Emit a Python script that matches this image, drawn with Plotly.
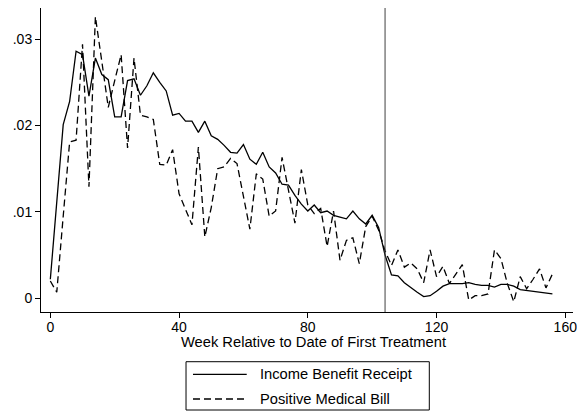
import plotly.graph_objects as go

weeks = list(range(0, 157, 2))

income_benefit = [
    0.0022, 0.0111, 0.0201, 0.0228, 0.0286, 0.0282, 0.0234, 0.0278, 0.0259, 0.0253,
    0.0210, 0.0210, 0.0252, 0.0254, 0.0235, 0.0246, 0.0261, 0.0250, 0.0240, 0.0212,
    0.0214, 0.0205, 0.0205, 0.0192, 0.0205, 0.0188, 0.0184, 0.0177, 0.0169, 0.0168,
    0.0178, 0.0161, 0.0155, 0.0169, 0.0152, 0.0145, 0.0132, 0.0131, 0.0119, 0.0109,
    0.0101, 0.0108, 0.0099, 0.0101, 0.0096, 0.0094, 0.0092, 0.0101, 0.0092, 0.0086,
    0.0096, 0.0082, 0.0050, 0.0027, 0.0026, 0.0018, 0.0012, 0.0007, 0.0002, 0.0003,
    0.0008, 0.0014, 0.0017, 0.0017, 0.0017, 0.0018, 0.0016, 0.0015, 0.0015, 0.0013,
    0.0016, 0.0016, 0.0014, 0.0010, 0.0009, 0.0008, 0.0007, 0.0006, 0.0005,
]

medical_bill = [
    0.0020, 0.0007, 0.0095, 0.0181, 0.0183, 0.0294, 0.0129, 0.0326, 0.0274, 0.0221,
    0.0252, 0.0282, 0.0174, 0.0278, 0.0212, 0.0210, 0.0207, 0.0155, 0.0154, 0.0172,
    0.0121, 0.0104, 0.0085, 0.0175, 0.0071, 0.0105, 0.0150, 0.0152, 0.0162, 0.0156,
    0.0118, 0.0080, 0.0144, 0.0138, 0.0095, 0.0101, 0.0163, 0.0123, 0.0087, 0.0149,
    0.0108, 0.0098, 0.0104, 0.0060, 0.0101, 0.0044, 0.0067, 0.0070, 0.0040, 0.0083,
    0.0095, 0.0079, 0.0055, 0.0038, 0.0056, 0.0036, 0.0041, 0.0034, 0.0018, 0.0056,
    0.0025, 0.0037, 0.0017, 0.0028, 0.0039, -0.0002, 0.0003, 0.0003, 0.0005, 0.0056,
    0.0046, 0.0017, -0.0004, 0.0025, 0.0011, 0.0022, 0.0034, 0.0012, 0.0028,
]

series_names = ["Income Benefit Receipt", "Positive Medical Bill"]
x_ticks = [0, 40, 80, 120, 160]
y_ticks = [0, 0.01, 0.02, 0.03]
y_tick_labels = ["0", ".01", ".02", ".03"]
x_title = "Week Relative to Date of First Treatment"
treatment_week = 104

FONT = "Liberation Sans, Arial, sans-serif"
FS = 14.7
TICK_FS = 14
DASH = "7px,4px"

fig = go.Figure()
fig.add_trace(go.Scatter(
    x=weeks, y=income_benefit, mode="lines", name=series_names[0],
    line=dict(color="black", width=1.3), showlegend=False,
))
fig.add_trace(go.Scatter(
    x=weeks, y=medical_bill, mode="lines", name=series_names[1],
    line=dict(color="black", width=1.3, dash=DASH), showlegend=False,
))

fig.add_shape(type="line", xref="x", yref="paper", x0=treatment_week, x1=treatment_week,
              y0=0, y1=1, line=dict(color="#404040", width=1))

# Legend box drawn below the plot (paper coordinates)
fig.add_shape(type="rect", xref="paper", yref="paper", x0=0.2726, x1=0.7299,
              y0=-0.3224, y1=-0.1635, line=dict(color="black", width=1),
              fillcolor="white", layer="above")
fig.add_shape(type="line", xref="paper", yref="paper", x0=0.2857, x1=0.3867,
              y0=-0.2049, y1=-0.2049, line=dict(color="black", width=1.3))
fig.add_shape(type="line", xref="paper", yref="paper", x0=0.2857, x1=0.3867,
              y0=-0.2862, y1=-0.2862, line=dict(color="black", width=1.3, dash=DASH))
for name, yy in zip(series_names, [-0.2049, -0.2862]):
    fig.add_annotation(text=name, xref="paper", yref="paper", x=0.4080, y=yy,
                       xanchor="left", yanchor="middle", showarrow=False,
                       font=dict(family=FONT, size=FS, color="black"))

fig.add_annotation(text=x_title, xref="paper", yref="paper", x=0.513, y=-0.0987,
                   xanchor="center", yanchor="middle", showarrow=False,
                   font=dict(family=FONT, size=FS, color="black"))

fig.update_layout(
    width=577, height=411,
    margin=dict(l=41, r=4, t=8, b=99, autoexpand=False),
    paper_bgcolor="white", plot_bgcolor="white",
    font=dict(family=FONT, size=FS, color="black"),
    showlegend=False,
    xaxis=dict(
        range=[-2.9, 162.4], tickvals=x_ticks, showgrid=False, zeroline=False,
        showline=True, linecolor="black", linewidth=1,
        ticks="outside", ticklen=5, tickcolor="black",
        tickfont=dict(size=TICK_FS), ticklabelstandoff=-3,
        ticklabeloverflow="allow", automargin=False,
    ),
    yaxis=dict(
        range=[-0.00159, 0.0336], tickvals=y_ticks, ticktext=y_tick_labels,
        showgrid=False, zeroline=False,
        showline=True, linecolor="black", linewidth=1,
        ticks="outside", ticklen=5, tickcolor="black",
        tickfont=dict(size=TICK_FS), automargin=False,
    ),
)

fig.write_html("out.html")
